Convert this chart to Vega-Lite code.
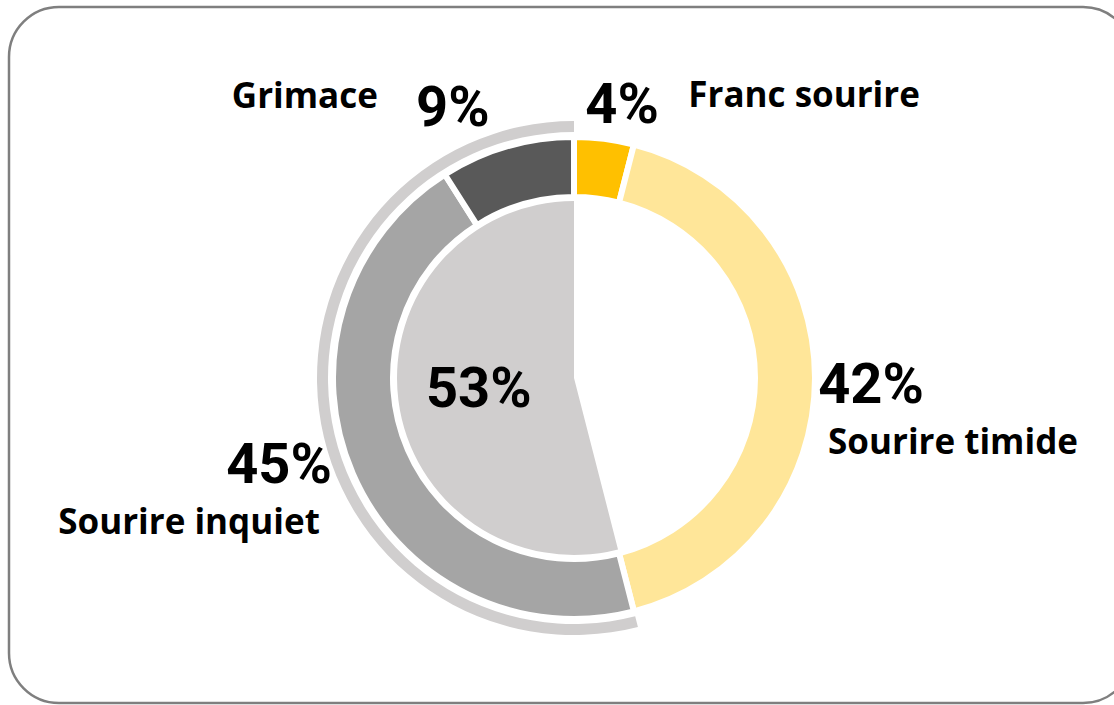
{
  "$schema": "https://vega.github.io/schema/vega-lite/v6.json",
  "autosize": {"type": "fit", "contains": "padding"},
  "width": 1114,
  "height": 705,
  "padding": {"left": 9, "top": 7, "right": -19, "bottom": 2},
  "background": "white",
  "view": {"stroke": "#7F7F7F", "strokeWidth": 2.5, "cornerRadius": 50, "fill": "white"},
  "config": {
    "view": {"stroke": "#7F7F7F", "strokeWidth": 2.5, "cornerRadius": 50, "fill": "white"},
    "style": {"view": {"stroke": "#7F7F7F", "strokeWidth": 2.5, "cornerRadius": 50, "fill": "white"}},
    "text": {"fontWeight": "bold", "color": "#000000"}
  },
  "datasets": {
    "ring": [
      {"cat": "Franc sourire", "value": 0.04, "ord": 1},
      {"cat": "Sourire timide", "value": 0.42, "ord": 2},
      {"cat": "Sourire inquiet", "value": 0.45, "ord": 3},
      {"cat": "Grimace", "value": 0.09, "ord": 4}
    ],
    "inner": [
      {"part": "Sourires", "value": 0.46, "ord": 1, "label": ""},
      {"part": "Sourire inquiet ou grimace", "value": 0.54, "ord": 2, "label": "53%"}
    ],
    "band": [
      {"part": "Sourires", "value": 0.46, "ord": 1},
      {"part": "Sourire inquiet ou grimace", "value": 0.54, "ord": 2}
    ]
  },
  "resolve": {"scale": {"color": "independent"}},
  "layer": [
    {
      "data": {"name": "band"},
      "mark": {"type": "arc", "xOffset": 3, "yOffset": 23},
      "encoding": {
        "theta": {"field": "value", "type": "quantitative", "stack": true},
        "order": {"field": "ord", "type": "quantitative"},
        "radius": {"value": 257},
        "radius2": {"value": 246},
        "color": {"field": "part", "type": "nominal", "legend": null,
          "scale": {"domain": ["Sourires", "Sourire inquiet ou grimace"], "range": ["#FFFFFF", "#D0CECE"]}}
      }
    },
    {
      "data": {"name": "inner"},
      "mark": {"type": "arc", "xOffset": 3, "yOffset": 23},
      "encoding": {
        "theta": {"field": "value", "type": "quantitative", "stack": true},
        "order": {"field": "ord", "type": "quantitative"},
        "radius": {"value": 177},
        "color": {"field": "part", "type": "nominal", "legend": null,
          "scale": {"domain": ["Sourires", "Sourire inquiet ou grimace"], "range": ["#FFFFFF", "#D0CECE"]}}
      }
    },
    {
      "data": {"name": "ring"},
      "mark": {"type": "arc", "xOffset": 3, "yOffset": 23, "stroke": "#FFFFFF", "strokeWidth": 6},
      "encoding": {
        "theta": {"field": "value", "type": "quantitative", "stack": true},
        "order": {"field": "ord", "type": "quantitative"},
        "radius": {"value": 241},
        "radius2": {"value": 181},
        "color": {"field": "cat", "type": "nominal", "legend": null,
          "scale": {"domain": ["Franc sourire", "Sourire timide", "Sourire inquiet", "Grimace"], "range": ["#FFC000", "#FFE699", "#A5A5A5", "#595959"]}}
      }
    },
    {
      "data": {"name": "inner"},
      "mark": {"type": "text", "xOffset": 3, "yOffset": 23, "dx": 4, "dy": -1, "font": "Roboto", "fontSize": 56, "align": "center", "baseline": "middle"},
      "encoding": {
        "theta": {"field": "value", "type": "quantitative", "stack": true},
        "order": {"field": "ord", "type": "quantitative"},
        "radius": {"value": 100},
        "text": {"field": "label"}
      }
    },
    {
      "data": {"name": "ring"},
      "mark": {"type": "text", "xOffset": 3, "yOffset": 23, "dx": 13, "dy": 6, "font": "Roboto", "fontSize": 56, "align": "center", "baseline": "middle"},
      "encoding": {
        "theta": {"field": "value", "type": "quantitative", "stack": true},
        "order": {"field": "ord", "type": "quantitative"},
        "radius": {"value": 280},
        "text": {"condition": {"test": "datum.cat === 'Franc sourire'", "field": "value", "format": ".0%"}, "value": ""}
      }
    },
    {
      "data": {"name": "ring"},
      "mark": {"type": "text", "xOffset": 3, "yOffset": 23, "dx": 17, "dy": 8, "font": "Roboto", "fontSize": 56, "align": "center", "baseline": "middle"},
      "encoding": {
        "theta": {"field": "value", "type": "quantitative", "stack": true},
        "order": {"field": "ord", "type": "quantitative"},
        "radius": {"value": 280},
        "text": {"condition": {"test": "datum.cat === 'Sourire timide'", "field": "value", "format": ".0%"}, "value": ""}
      }
    },
    {
      "data": {"name": "ring"},
      "mark": {"type": "text", "xOffset": 3, "yOffset": 23, "dx": -38, "dy": -23, "font": "Roboto", "fontSize": 56, "align": "center", "baseline": "middle"},
      "encoding": {
        "theta": {"field": "value", "type": "quantitative", "stack": true},
        "order": {"field": "ord", "type": "quantitative"},
        "radius": {"value": 280},
        "text": {"condition": {"test": "datum.cat === 'Sourire inquiet'", "field": "value", "format": ".0%"}, "value": ""}
      }
    },
    {
      "data": {"name": "ring"},
      "mark": {"type": "text", "xOffset": 3, "yOffset": 23, "dx": -43, "dy": 0, "font": "Roboto", "fontSize": 56, "align": "center", "baseline": "middle"},
      "encoding": {
        "theta": {"field": "value", "type": "quantitative", "stack": true},
        "order": {"field": "ord", "type": "quantitative"},
        "radius": {"value": 280},
        "text": {"condition": {"test": "datum.cat === 'Grimace'", "field": "value", "format": ".0%"}, "value": ""}
      }
    },
    {
      "data": {"name": "ring"},
      "mark": {"type": "text", "xOffset": 3, "yOffset": 23, "dx": 195, "dy": -4, "font": "Open Sans", "fontSize": 35, "align": "center", "baseline": "middle"},
      "encoding": {
        "theta": {"field": "value", "type": "quantitative", "stack": true},
        "order": {"field": "ord", "type": "quantitative"},
        "radius": {"value": 280},
        "text": {"condition": {"test": "datum.cat === 'Franc sourire'", "field": "cat"}, "value": ""}
      }
    },
    {
      "data": {"name": "ring"},
      "mark": {"type": "text", "xOffset": 3, "yOffset": 23, "dx": 99, "dy": 65, "font": "Open Sans", "fontSize": 35, "align": "center", "baseline": "middle"},
      "encoding": {
        "theta": {"field": "value", "type": "quantitative", "stack": true},
        "order": {"field": "ord", "type": "quantitative"},
        "radius": {"value": 280},
        "text": {"condition": {"test": "datum.cat === 'Sourire timide'", "field": "cat"}, "value": ""}
      }
    },
    {
      "data": {"name": "ring"},
      "mark": {"type": "text", "xOffset": 3, "yOffset": 23, "dx": -128, "dy": 34, "font": "Open Sans", "fontSize": 35, "align": "center", "baseline": "middle"},
      "encoding": {
        "theta": {"field": "value", "type": "quantitative", "stack": true},
        "order": {"field": "ord", "type": "quantitative"},
        "radius": {"value": 280},
        "text": {"condition": {"test": "datum.cat === 'Sourire inquiet'", "field": "cat"}, "value": ""}
      }
    },
    {
      "data": {"name": "ring"},
      "mark": {"type": "text", "xOffset": 3, "yOffset": 23, "dx": -191, "dy": -12, "font": "Open Sans", "fontSize": 35, "align": "center", "baseline": "middle"},
      "encoding": {
        "theta": {"field": "value", "type": "quantitative", "stack": true},
        "order": {"field": "ord", "type": "quantitative"},
        "radius": {"value": 280},
        "text": {"condition": {"test": "datum.cat === 'Grimace'", "field": "cat"}, "value": ""}
      }
    }
  ]
}
